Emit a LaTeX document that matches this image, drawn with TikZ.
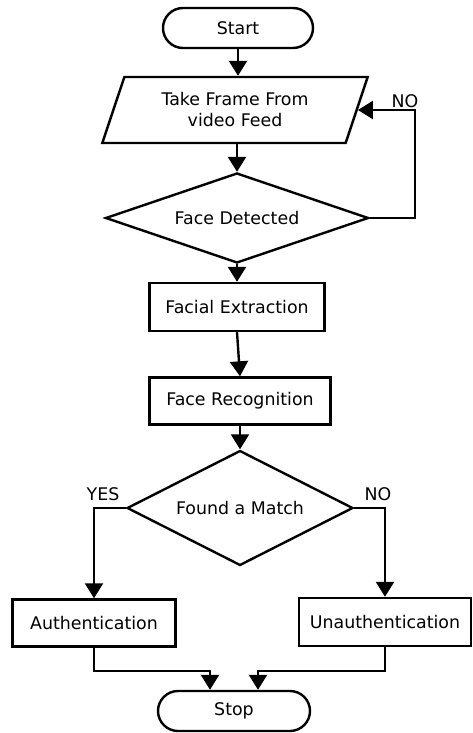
\documentclass[tikz,border=0pt]{standalone}
\usepackage{fontspec}
\setmainfont{DejaVu Sans}
\usetikzlibrary{shapes.geometric,arrows.meta}
\begin{document}
\begin{tikzpicture}[x=1pt,y=-1pt,
  base/.style={draw, line width=2.4pt, fill=white, align=center, font=\fontsize{17.4}{21}\selectfont, inner sep=0pt},
  term/.style={base, rectangle, rounded corners=20pt, minimum height=40pt},
  proc/.style={base, rectangle},
  dec/.style={base, diamond},
  io/.style={base, trapezium, trapezium left angle=67, trapezium right angle=113, trapezium stretches=true},
  arr/.style={line width=2.4pt, -{Triangle[length=15pt,width=18pt]}},
  lbl/.style={font=\fontsize{17.4}{21}\selectfont, inner sep=0pt}]
\useasboundingbox (0,0) rectangle (473,733);
\node[term, minimum width=150pt] (start) at (238,28) {Start};
\node[io, minimum width=266pt, minimum height=66pt] (tf) at (235,110) {Take Frame From\\video Feed};
\node[dec, aspect=2.9, minimum width=263pt, minimum height=90pt] (fd) at (237,218) {Face Detected};
\node[proc, minimum width=175pt, minimum height=48pt] (fe) at (237,307) {Facial Extraction};
\node[proc, minimum width=181pt, minimum height=47pt] (fr) at (240,401) {Face Recognition};
\node[dec, aspect=2, minimum width=226pt, minimum height=115pt] (fm) at (240,508) {Found a Match};
\node[proc, minimum width=163pt, minimum height=47pt] (auth) at (94,623) {Authentication};
\node[proc, minimum width=172pt, minimum height=48pt] (unauth) at (385,622) {Unauthentication};
\node[term, minimum width=152pt] (stop) at (234,711) {Stop};
\coordinate (loop) at (415,218);
\draw[arr] (start.south) -- (start.south |- tf.north);
\draw[arr] (tf.south -| fd.north) -- (fd.north);
\draw[arr] (fd.east) -- (loop) |- (tf.east);
\draw[arr] (fd.south) -- (fe.north);
\draw[arr] (fe.south) -- (fr.north);
\draw[arr] (fr.south) -- (fm.north);
\draw[arr] (fm.west) -| (auth.north);
\draw[arr] (fm.east) -| (unauth.north);
\draw[arr] (auth.south) -- ++(0,23) -| ([xshift=-24pt]stop.north);
\draw[arr] (unauth.south) -- ++(0,24) -| ([xshift=24pt]stop.north);
\node[lbl] (no1) at (405,101) {NO};
\node[lbl] (yes) at (103,494) {YES};
\node[lbl] (no2) at (378,494) {NO};
\end{tikzpicture}
\end{document}
